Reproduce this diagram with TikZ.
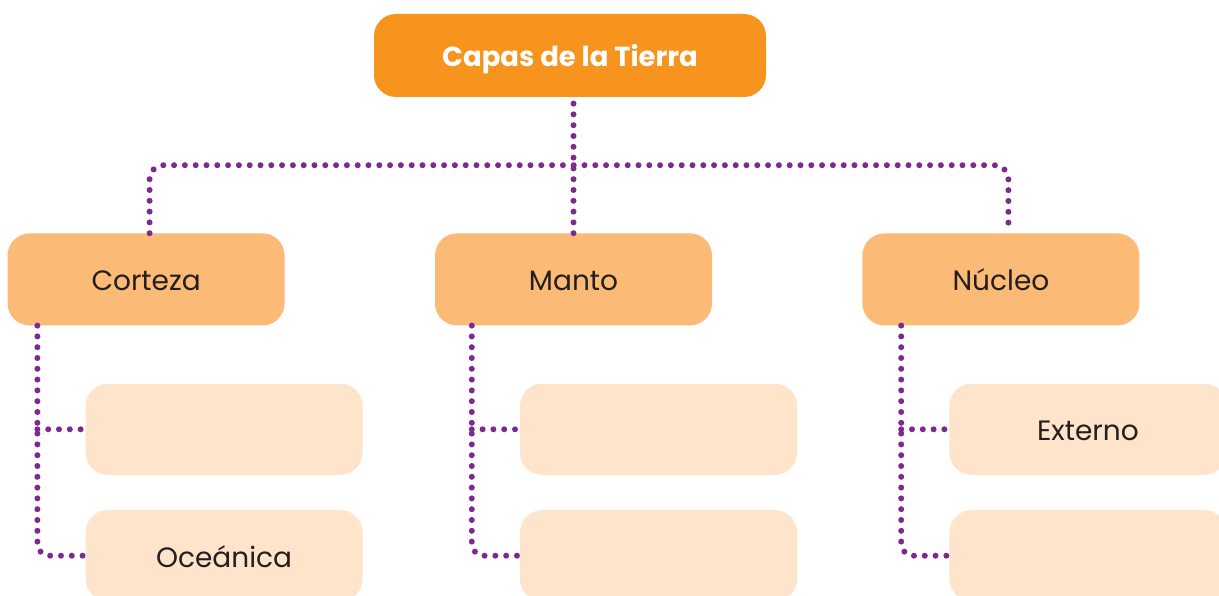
\documentclass[tikz,border=0pt]{standalone}
\usepackage{fontspec}
\setmainfont{Poppins}
\usetikzlibrary{positioning, calc}
\definecolor{capaorange}{RGB}{247,148,29}
\definecolor{capamid}{RGB}{251,186,118}
\definecolor{capalight}{RGB}{253,228,202}
\definecolor{dotpurple}{RGB}{125,42,143}
\definecolor{textdark}{RGB}{35,31,32}

\begin{document}
\begin{tikzpicture}[
  x=1pt, y=-1pt,
  capa/.style={
    rectangle, rounded corners=22pt, draw=none, align=center,
    minimum width=277pt, minimum height=92pt, inner sep=0pt,
    text height=23pt, text depth=0pt,
    text=textdark, font=\fontsize{28}{33}\selectfont
  },
  capatop/.style ={capa, fill=capaorange, text=white,
    minimum width=392pt, minimum height=83pt,
    font=\fontsize{27.5}{32}\selectfont\bfseries},
  capamain/.style={capa, fill=capamid},
  capasub/.style ={capa, fill=capalight, minimum height=91pt},
  link/.style={draw=dotpurple, line width=6pt, line cap=round,
    dash pattern=on 0pt off 10.8pt}
]
  \useasboundingbox (0,0) rectangle (1219,596);

  \node[capatop] (tierra) at (570,55.5) {Capas de la Tierra};
  \node[capamain, below=136pt of tierra, xshift=3.5pt] (manto)   {Manto};
  \node[capamain, left=150pt of manto]                 (corteza) {Corteza};
  \node[capamain, right=150pt of manto]                (nucleo)  {Núcleo};

  % subcapas
  \node[capasub, below=58pt of corteza.south west, anchor=north west, xshift=78pt] (corteza1) {};
  \node[capasub, below=35pt of corteza1]                                        (corteza2) {Oceánica};
  \node[capasub, below=58pt of manto.south west, anchor=north west, xshift=85pt]   (manto1)   {};
  \node[capasub, below=35pt of manto1]                                          (manto2)   {};
  \node[capasub, below=58pt of nucleo.south west, anchor=north west, xshift=87pt]  (nucleo1)  {Externo};
  \node[capasub, below=35pt of nucleo1]                                         (nucleo2)  {};

  % ramas principales
  \coordinate (barra) at ($(tierra.south)!0.5!(manto.north)$);
  \draw[link] (manto.north) -- (manto.north |- tierra.south);
  \draw[link, rounded corners=14pt]
    ([xshift=3.5pt]corteza.north) |- (barra) -| ([xshift=7.5pt]nucleo.north);

  % ramas secundarias
  \foreach \capa/\dx in {corteza/30, manto/37, nucleo/39}{
    \coordinate (\capa-eje) at ([xshift=\dx pt]\capa.south west);
    \draw[link, rounded corners=12pt] (\capa-eje) |- (\capa2.west);
    \draw[link] (\capa1.west -| \capa-eje) -- (\capa1.west);
  }
\end{tikzpicture}
\end{document}
